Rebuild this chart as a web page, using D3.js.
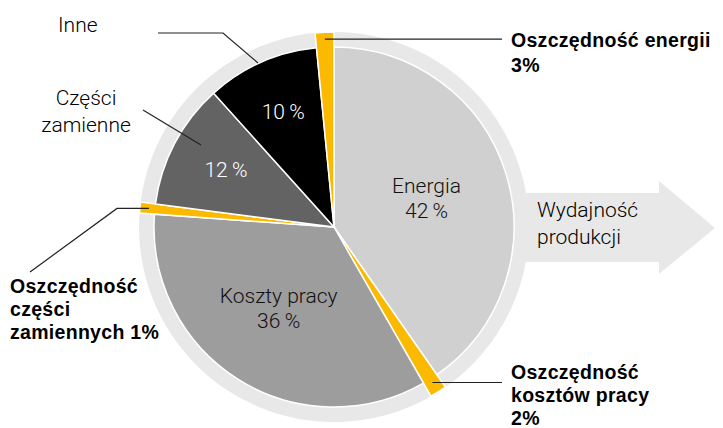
<!DOCTYPE html>
<html>
<head>
<meta charset="utf-8">
<script src="https://cdn.jsdelivr.net/npm/d3@7"></script>
<style>
  body { margin: 0; background: #fff; }
  svg { display: block; }
  text { font-family: "Helvetica Neue", Roboto, "Liberation Sans", sans-serif; }
  .light { font-weight: 300; fill: #000; }
  .bold { font-family: "Liberation Sans", Arial, sans-serif; font-weight: bold; fill: #000; letter-spacing: 0.3px; }
</style>
</head>
<body>
<script>
// slices clockwise from 12 o'clock, share of the circle as drawn
const sliceNames = ['Energia', 'Oszczędność kosztów pracy', 'Koszty pracy', 'Oszczędność części zamiennych', 'Części zamienne', 'Inne', 'Oszczędność energii']
const sliceValues = [40.3, 1.4, 34.4, 0.9, 11.3, 10.1, 1.55]
const sliceLabels = ['42', '2', '36', '1', '12', '10', '3']
const isSaving = [false, true, false, true, false, false, true]
const sliceColors = ['#d0d0d0', '#fbb900', '#9d9d9d', '#fbb900', '#636363', '#000000', '#fbb900']

const data = sliceNames.map((n, i) => ({ name: n, value: sliceValues[i], label: sliceLabels[i], saving: isSaving[i], color: sliceColors[i] }))

var width = 723, height = 428,
    cx = 334, cy = 227,
    rPie = 180, rRing = 195;

var svg = d3.select("body").append("svg")
    .attr("width", width)
    .attr("height", height);

// arrow behind the pie
var arrow = d3.path();
arrow.moveTo(cx, 193); arrow.lineTo(659, 193); arrow.lineTo(659, 181);
arrow.lineTo(715, 228); arrow.lineTo(659, 274); arrow.lineTo(659, 262);
arrow.lineTo(cx, 262); arrow.closePath();
svg.append("path").attr("d", arrow.toString()).attr("fill", "#e8e8e8");

var g = svg.append("g").attr("transform", "translate(" + cx + "," + cy + ")");

// outer ring
g.append("circle").attr("r", rRing).attr("fill", "#e8e8e8");

var pie = d3.pie().sort(null).value(d => d.value);
var arcs = pie(data);

var arc = d3.arc()
    .innerRadius(0)
    .outerRadius(d => d.data.saving ? rRing : rPie);

g.selectAll(".slice")
    .data(arcs)
    .enter()
    .append("path")
    .attr("class", "slice")
    .attr("d", arc)
    .attr("fill", d => d.data.color)
    .attr("stroke", "#fff")
    .attr("stroke-width", 1.5)
    .attr("stroke-linejoin", "round");

// inside labels
var labelRadius = { 'Energia': 97, 'Koszty pracy': 104, 'Części zamienne': 122, 'Inne': 126 };
var labelShift = { 'Energia': 7, 'Koszty pracy': 0, 'Części zamienne': 0, 'Inne': 0 };
var inner = arcs.filter(d => labelRadius[d.data.name]);
inner.forEach(function (d) {
    var r = labelRadius[d.data.name];
    var c = d3.arc().innerRadius(r).outerRadius(r).centroid(d);
    var y = c[1] + labelShift[d.data.name];
    var dark = d.data.name === 'Energia' || d.data.name === 'Koszty pracy';
    var t = g.append("text")
        .attr("class", "light")
        .attr("text-anchor", "middle")
        .attr("font-size", 21)
        .style("fill", dark ? "#111" : "#fff");
    if (dark) {
        t.append("tspan").attr("x", c[0]).attr("y", y - 12).text(d.data.name);
        t.append("tspan").attr("x", c[0]).attr("y", y + 13).text(d.data.label + "\u2009%");
    } else {
        t.append("tspan").attr("x", c[0]).attr("y", y + 7).text(d.data.label + "\u2009%");
    }
});

function pointAt(d, r) {
    return d3.arc().innerRadius(r).outerRadius(r).centroid(d);
}

var lines = svg.append("g").attr("fill", "none").attr("stroke", "#222").attr("stroke-width", 1.2);

// leader lines
var byName = {};
arcs.forEach(d => byName[d.data.name] = d);

var pE = pointAt(byName['Oszczędność energii'], 188);
lines.append("polyline").attr("points", [[cx + pE[0], cy + pE[1]], [502, cy + pE[1]]].join(" "));

var pK = pointAt(byName['Oszczędność kosztów pracy'], 184);
lines.append("polyline").attr("points", [[cx + pK[0], cy + pK[1]], [502, cy + pK[1]]].join(" "));

var pC = pointAt(byName['Oszczędność części zamiennych'], 186);
lines.append("polyline").attr("points", [[cx + pC[0], cy + pC[1]], [117, cy + pC[1]], [30, 272]].join(" "));

lines.append("polyline").attr("points", [[158, 33], [223, 33], [258, 63]].join(" "));
lines.append("polyline").attr("points", [[143, 110], [201, 145]].join(" "));

// outside labels
function multi(x, y, rows, cls, size, lh, anchor) {
    var t = svg.append("text").attr("class", cls).attr("font-size", size).attr("text-anchor", anchor || "start");
    rows.forEach((r, i) => t.append("tspan").attr("x", x).attr("y", y + i * lh).text(r));
}

multi(58, 32, ['Inne'], 'light', 21, 27);
multi(86, 105, ['Części', 'zamienne'], 'light', 21, 27, 'middle');
multi(537, 217, ['Wydajność', 'produkcji'], 'light', 21, 27);

multi(511, 47, ['Oszczędność energii', '3%'], 'bold', 19.5, 25);
multi(511, 379, ['Oszczędność', 'kosztów pracy', '2%'], 'bold', 19.5, 23);
multi(10, 293, ['Oszczędność', 'części', 'zamiennych 1%'], 'bold', 19.5, 23);
</script>
</body>
</html>
